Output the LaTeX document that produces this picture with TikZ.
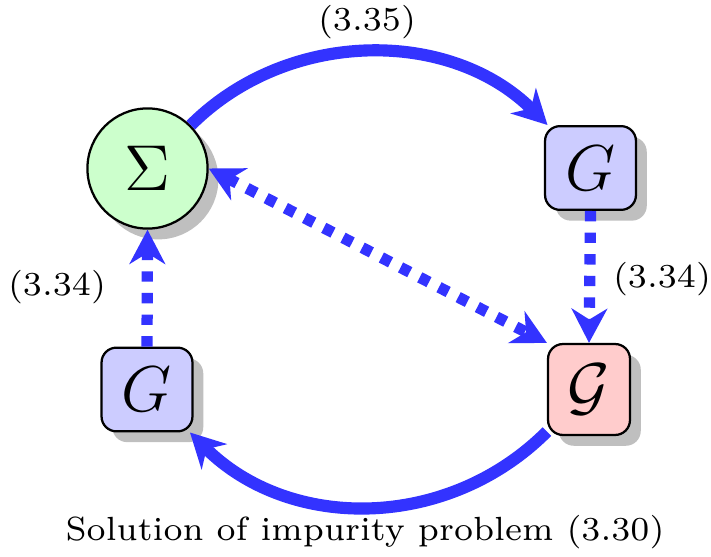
\documentclass[tikz,border=0pt]{standalone}
\usetikzlibrary{arrows.meta,shadows}
\definecolor{arrowblue}{RGB}{51,51,255}
\tikzset{
  x=0.2222pt, y=0.2222pt,
  shad/.style={drop shadow={shadow xshift=2.4pt, shadow yshift=-2.4pt, opacity=1, fill=black!25}},
  bigmath/.style={font=\fontsize{13.7}{16}\selectfont},
  lbl/.style={font=\fontsize{7.45}{9}\selectfont, inner sep=0pt},
  sig/.style={circle, draw, line width=0.5pt, fill=green!20, minimum size=26.7pt, inner sep=0pt, shad, bigmath},
  gbox/.style={rectangle, rounded corners=3.3pt, draw, line width=0.5pt, fill=blue!20, minimum width=20.2pt, minimum height=18.6pt, inner sep=0pt, shad, bigmath},
  gcal/.style={gbox, fill=red!20, minimum width=18.2pt, minimum height=20.2pt},
  arr/.style={draw=arrowblue, line width=2.7pt, -{Stealth[length=7.6pt, width=7.9pt, inset=2.4pt]}},
  darr/.style={draw=arrowblue, line width=2.5pt, dash pattern=on 2.3pt off 2.5pt, -{Stealth[length=7.6pt, width=7.9pt, inset=2.4pt]}},
}
\begin{document}
\begin{tikzpicture}
\useasboundingbox (0,0) rectangle (711,-556);
\node[sig]  (S)  at (147.5,-168.5) {$\Sigma$};
\node[gbox] (G1) at (590.5,-168) {$G$};
\node[gcal] (Gc) at (589,-389.5) {$\mathcal{G}$};
\node[gbox] (G2) at (147,-389.5) {$G$};

\draw[arr] (S) to[out=45, in=135, distance=30.5pt] (G1);
\draw[arr] (Gc) to[out=-135, in=-45, distance=31.2pt] (G2);
\draw[darr] (G1.south) -- (Gc.north);
\draw[darr] (G2.north) -- (S.south);
\draw[darr, {Stealth[length=7.6pt, width=7.9pt, inset=2.4pt]}-{Stealth[length=7.6pt, width=7.9pt, inset=2.4pt]}] (S.east) -- (Gc.north west);

\node[lbl] (l1) at (367,-22) {(3.35)};
\node[lbl] (l2) at (662,-279) {(3.34)};
\node[lbl] (l3) at (57,-287) {(3.34)};
\node[lbl] (cap) at (365,-532.5) {Solution of impurity problem (3.30)};
\end{tikzpicture}
\end{document}
